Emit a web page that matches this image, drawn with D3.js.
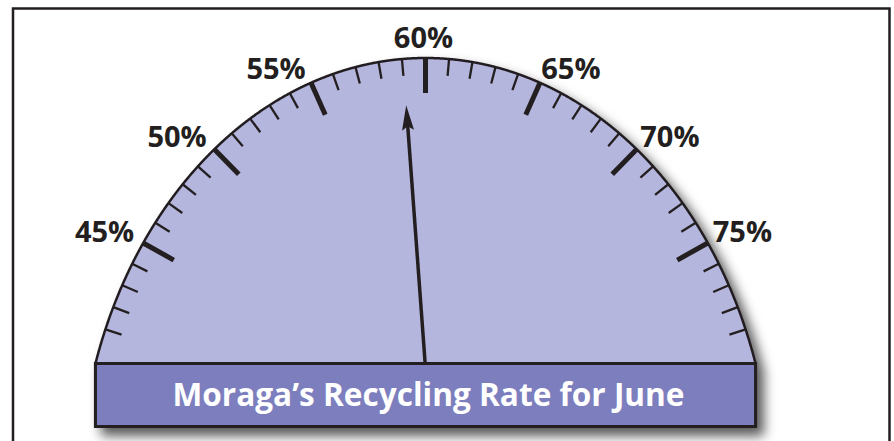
<!DOCTYPE html>
<html>
<head>
	<meta charset="utf-8">
	<title>Moraga Recycling Rate</title>
	<style type="text/css">
		html, body {
			margin: 0;
			padding: 0;
			background: #fff;
		}

		svg {
			display: block;
		}

		.frame {
			fill: none;
			stroke: #231f20;
			stroke-width: 2.5;
		}

		.dial {
			fill: #b4b6dd;
			stroke: #231f20;
			stroke-width: 2.5;
		}

		.tick {
			stroke: #231f20;
		}

		.tick-label {
			font-family: "Open Sans", sans-serif;
			font-weight: 700;
			font-size: 29px;
			fill: #231f20;
		}

		.banner {
			fill: #7c7ebe;
			stroke: #231f20;
			stroke-width: 3;
		}

		.banner-text {
			font-family: "Open Sans", sans-serif;
			font-weight: 700;
			font-size: 31.6px;
			fill: #fff;
		}
	</style>
</head>
<body>
	<div id="chart"></div>
	<script src="https://d3js.org/d3.v7.min.js"></script>
	<script type="text/javascript">
		// chart values
		var majorTicks = [45, 50, 55, 60, 65, 70, 75];
		var tickLabels = ["45%", "50%", "55%", "60%", "65%", "70%", "75%"];
		var scaleDomain = [40, 80];
		var needleValue = [59];
		var title = "Moraga\u2019s Recycling Rate for June";

		var width = 894,
			height = 441;

		// dial is a piece of an upright ellipse cut by the banner
		var cx = 425.5,
			cy = 500,
			rx = 347,
			ry = 442,
			chordY = 363.5,
			bannerHeight = 63,
			pxPerPercent = 23.6; // ticks are evenly spaced along the rim

		var svg = d3.select("#chart")
			.append("svg")
			.attr("width", width)
			.attr("height", height);

		var defs = svg.append("defs");
		var shadow = defs.append("filter")
			.attr("id", "shadow")
			.attr("x", "-10%")
			.attr("y", "-10%")
			.attr("width", "130%")
			.attr("height", "140%");
		shadow.append("feDropShadow")
			.attr("dx", 7)
			.attr("dy", 8)
			.attr("stdDeviation", 6)
			.attr("flood-color", "#000")
			.attr("flood-opacity", 0.65);

		// outer frame (open at the bottom)
		svg.append("path")
			.attr("class", "frame")
			.attr("d", "M13," + height + "V8.5H889.5V" + height);

		var t0 = Math.acos((cy - chordY) / ry);
		var ellipse = function(t) {
			return [cx + rx * Math.sin(t), cy - ry * Math.cos(t)];
		};

		// arc length table for the right half of the rim
		var samples = d3.range(0, 1001).map(function(i) { return t0 * i / 1000; });
		var lengths = [0];
		for (var i = 1; i < samples.length; i++) {
			var a = ellipse(samples[i - 1]), b = ellipse(samples[i]);
			lengths.push(lengths[i - 1] + Math.hypot(b[0] - a[0], b[1] - a[1]));
		}
		var bisect = d3.bisector(function(d) { return d; }).left;

		// value -> signed distance along the rim from the top
		var rim = d3.scaleLinear()
			.domain(scaleDomain)
			.range([-20 * pxPerPercent, 20 * pxPerPercent]);

		function rimPoint(v) {
			var s = rim(v), sign = s < 0 ? -1 : 1;
			s = Math.abs(s);
			var j = Math.min(bisect(lengths, s), lengths.length - 1);
			var k = Math.max(j - 1, 0);
			var f = lengths[j] === lengths[k] ? 0 : (s - lengths[k]) / (lengths[j] - lengths[k]);
			var t = sign * (samples[k] + f * (samples[j] - samples[k]));
			var p = ellipse(t);
			var nx = Math.sin(t) / rx, ny = -Math.cos(t) / ry, nl = Math.hypot(nx, ny);
			return { x: p[0], y: p[1], nx: nx / nl, ny: ny / nl, s: Math.abs(rim(v)) };
		}

		var gauge = svg.append("g").attr("filter", "url(#shadow)");

		var rimLine = d3.line();
		var outline = samples.slice().reverse().map(function(t) { return ellipse(-t); })
			.concat(samples.slice(1).map(function(t) { return ellipse(t); }));

		gauge.append("path")
			.attr("class", "dial")
			.attr("d", rimLine(outline) + "Z");

		var x0 = ellipse(-t0)[0], x1 = ellipse(t0)[0];

		gauge.append("rect")
			.attr("class", "banner")
			.attr("x", x0)
			.attr("y", chordY)
			.attr("width", x1 - x0)
			.attr("height", bannerHeight);

		var face = svg.append("g");
		var halfLength = lengths[lengths.length - 1];

		function tickLine(sel, len) {
			sel.each(function(d) {
				var p = rimPoint(d);
				d3.select(this)
					.attr("x1", p.x).attr("y1", p.y)
					.attr("x2", p.x - p.nx * len).attr("y2", p.y - p.ny * len);
			});
		}

		// minor ticks, every percent
		var minor = rim.ticks(40).filter(function(d) {
			return majorTicks.indexOf(d) < 0 && rimPoint(d).s < halfLength - 15;
		});

		face.selectAll(".minor")
			.data(minor)
			.enter()
			.append("line")
			.attr("class", "tick minor")
			.attr("stroke-width", 2.3)
			.call(tickLine, 17);

		face.selectAll(".major")
			.data(majorTicks)
			.enter()
			.append("line")
			.attr("class", "tick major")
			.attr("stroke-width", 5)
			.call(tickLine, 35);

		var labelSize = 29, capHalf = labelSize * 0.714 / 2;

		face.selectAll(".tick-label")
			.data(majorTicks)
			.enter()
			.append("text")
			.attr("class", "tick-label")
			.attr("text-anchor", "middle")
			.text(function(d, i) { return tickLabels[i]; })
			.each(function(d) {
				var p = rimPoint(d),
					hw = this.getComputedTextLength() / 2,
					top = Math.abs(p.nx) < 0.05,
					gap = top ? 10 : 8,
					sx = top ? 0 : Math.sign(p.nx);
				// label centre sits just off the rim, beside it on the sides
				var mx = p.x + p.nx * gap + sx * hw - 2,
					my = p.y + p.ny * gap - capHalf * (top ? 1 : 0.7);
				d3.select(this)
					.attr("x", mx)
					.attr("y", my + capHalf);
			});

		// needle
		var needleAngle = d3.scaleLinear()
			.domain(scaleDomain)
			.range([-84, 84]);

		var needle = face.selectAll(".needle")
			.data(needleValue)
			.enter()
			.append("g")
			.attr("class", "needle")
			.attr("transform", function(d) {
				return "translate(" + (cx + 1.5) + ",388.5) rotate(" + needleAngle(d) + ")";
			});

		needle.append("line")
			.attr("x1", 0).attr("y1", -20)
			.attr("x2", 0).attr("y2", -264)
			.attr("stroke", "#231f20")
			.attr("stroke-width", 3.5);

		needle.append("path")
			.attr("d", "M0,-284L6,-259L0,-263L-6,-259Z")
			.attr("fill", "#231f20");

		// banner drawn again above the needle foot
		svg.append("rect")
			.attr("class", "banner")
			.attr("x", x0)
			.attr("y", chordY)
			.attr("width", x1 - x0)
			.attr("height", bannerHeight);

		svg.append("text")
			.attr("class", "banner-text")
			.attr("x", cx + 3)
			.attr("y", chordY + 42)
			.attr("text-anchor", "middle")
			.text(title);
	</script>
</body>
</html>
